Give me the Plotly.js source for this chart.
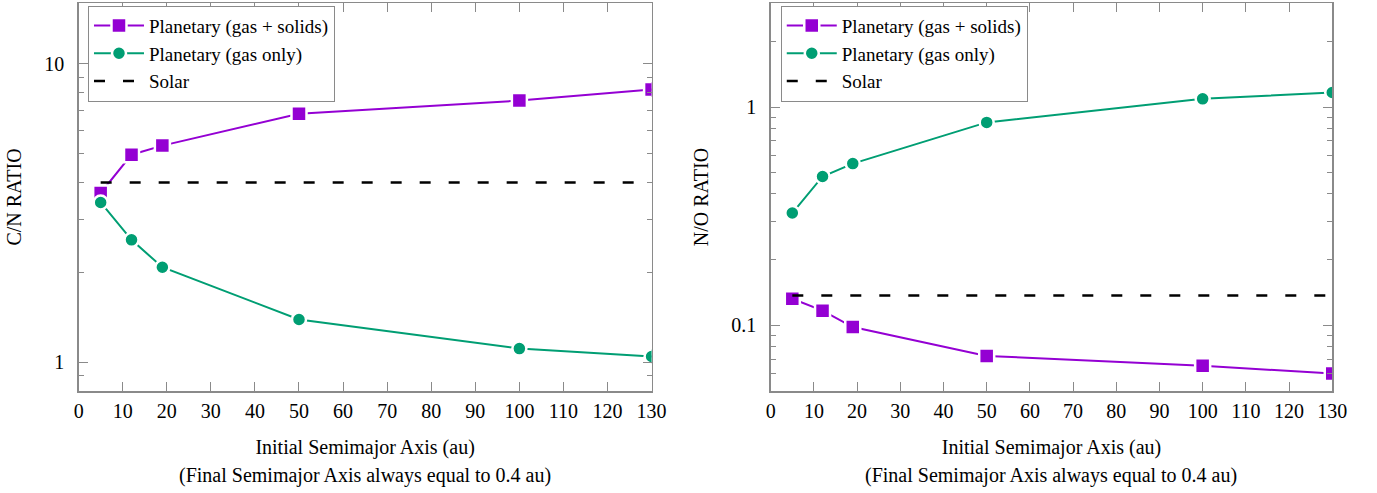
<!DOCTYPE html>
<html>
<head>
<meta charset="utf-8">
<script src="https://cdn.plot.ly/plotly-3.0.1.min.js"></script>
<style>html,body{margin:0;padding:0;background:#fff;}#chart{width:1377px;height:493px;}</style>
</head>
<body>
<div id="chart"></div>
<script>
// ---- data ----
const semimajor = [5, 12, 19, 50, 100, 130];
const cnSolids = [3.69, 4.96, 5.32, 6.80, 7.53, 8.2];
const cnGas = [3.43, 2.57, 2.08, 1.39, 1.11, 1.044];
const noSolids = [0.1324, 0.1167, 0.0982, 0.0724, 0.0652, 0.0602];
const noGas = [0.327, 0.481, 0.551, 0.851, 1.091, 1.167];
const solarX = [5, 130];
const solarCN = 4.0;
const solarNO = 0.137;
const seriesNames = ["Planetary (gas + solids)", "Planetary (gas only)", "Solar"];
const xTickVals = [0,10,20,30,40,50,60,70,80,90,100,110,120,130];
const cnTickVals = [1, 10];
const cnMinor = [0.9, 2, 3, 4, 5, 6, 7, 8, 9];
const noTickVals = [0.1, 1];
const noMinor = [0.06, 0.07, 0.08, 0.09, 0.2, 0.3, 0.4, 0.5, 0.6, 0.7, 0.8, 0.9, 2, 3];

const PURPLE = '#9400D3', GREEN = '#009E73', AX = '#8a8a8a';
const FONT = 'Liberation Serif, Times New Roman, serif';

function sq(xa, ya, y, leg, show) {
  return {x: semimajor, y: y, xaxis: xa, yaxis: ya, mode: 'lines+markers', name: seriesNames[0],
    legend: leg, showlegend: show,
    line: {color: PURPLE, width: 2},
    marker: {symbol: 'square', size: 15, color: PURPLE, line: {color: '#fff', width: 2.5}}};
}
function ci(xa, ya, y, leg, show) {
  return {x: semimajor, y: y, xaxis: xa, yaxis: ya, mode: 'lines+markers', name: seriesNames[1],
    legend: leg, showlegend: show,
    line: {color: GREEN, width: 2},
    marker: {symbol: 'circle', size: 14, color: GREEN, line: {color: '#fff', width: 2.5}}};
}
function sol(xa, ya, v, leg) {
  return {x: solarX, y: [v, v], xaxis: xa, yaxis: ya, mode: 'lines', name: seriesNames[2],
    legend: leg, line: {color: '#000', width: 2.5, dash: '11px,18px'}};
}

const data = [
  sq('x', 'y', cnSolids, 'legend', true),
  ci('x', 'y', cnGas, 'legend', true),
  sol('x', 'y', solarCN, 'legend'),
  sq('x2', 'y2', noSolids, 'legend2', true),
  ci('x2', 'y2', noGas, 'legend2', true),
  sol('x2', 'y2', solarNO, 'legend2')
];

function xax(domain, anchor) {
  return {domain: domain, anchor: anchor, range: [0, 130], tickmode: 'array', tickvals: xTickVals,
    ticks: 'inside', ticklen: 9, tickwidth: 1, tickcolor: AX, showline: true, linecolor: AX, linewidth: 1.5,
    mirror: 'allticks', showgrid: false, zeroline: false, ticklabelstandoff: 1,
    tickfont: {family: FONT, size: 20, color: '#000'},
    title: {text: 'Initial Semimajor Axis (au)', font: {family: FONT, size: 20, color: '#000'}, standoff: 19}};
}
function yax(range, tv, minor, anchor, title) {
  return {type: 'log', range: range, anchor: anchor, domain: [0, 1], tickmode: 'array', tickvals: tv,
    ticktext: tv.map(String),
    ticks: 'inside', ticklen: 9, tickwidth: 1, tickcolor: AX, showline: true, linecolor: AX, linewidth: 1.5,
    mirror: 'allticks', showgrid: false, zeroline: false, ticklabelstandoff: 9,
    minor: {tickmode: 'array', tickvals: minor, ticks: 'inside', ticklen: 5, tickwidth: 1, tickcolor: AX, showgrid: false},
    tickfont: {family: FONT, size: 20, color: '#000'},
    title: {text: title, font: {family: FONT, size: 20, color: '#000'}, standoff: 17}};
}

const legBase = {xanchor: 'left', yanchor: 'top', bgcolor: '#fff', bordercolor: AX, borderwidth: 1,
  font: {family: FONT, size: 19, color: '#000'}, itemwidth: 50, tracegroupgap: 0};

const layout = {
  width: 1377, height: 493,
  margin: {l: 0, r: 0, t: 3, b: 102},
  paper_bgcolor: '#fff', plot_bgcolor: '#fff',
  font: {family: FONT, size: 20, color: '#000'},
  xaxis: xax([0.0571, 0.4732], 'y'),
  yaxis: yax([Math.log10(0.8), Math.log10(16)], cnTickVals, cnMinor, 'x', 'C/N RATIO'),
  xaxis2: xax([0.5597, 0.9675], 'y2'),
  yaxis2: yax([Math.log10(0.05), Math.log10(3)], noTickVals, noMinor, 'x2', 'N/O RATIO'),
  legend: Object.assign({}, legBase, {x: 0.0639, y: 0.993}),
  legend2: Object.assign({}, legBase, {x: 0.567, y: 0.993}),
  annotations: [
    {text: '(Final Semimajor Axis always equal to 0.4 au)', xref: 'paper', yref: 'paper',
     x: (0.0571 + 0.4732) / 2, y: -0.219, xanchor: 'center', yanchor: 'middle', showarrow: false,
     font: {family: FONT, size: 20, color: '#000'}},
    {text: '(Final Semimajor Axis always equal to 0.4 au)', xref: 'paper', yref: 'paper',
     x: (0.5597 + 0.9675) / 2, y: -0.219, xanchor: 'center', yanchor: 'middle', showarrow: false,
     font: {family: FONT, size: 20, color: '#000'}}
  ],
  showlegend: true
};

Plotly.newPlot('chart', data, layout, {displayModeBar: false, staticPlot: true});
</script>
</body>
</html>
